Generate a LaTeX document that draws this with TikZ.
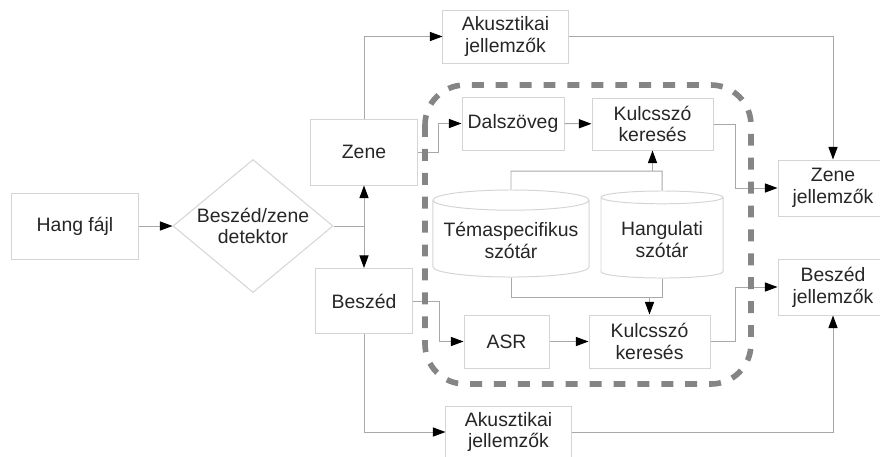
\documentclass[tikz,border=0pt]{standalone}
\usepackage{fontspec}
\setmainfont{Liberation Sans}
\usetikzlibrary{arrows.meta,shapes.geometric}
\definecolor{boxgray}{HTML}{D4D4D4}
\definecolor{linegray}{HTML}{A8A8A8}
\definecolor{regiongray}{HTML}{858585}
\begin{document}
\begin{tikzpicture}[
  x=0.025cm, y=-0.025cm,
  font=\fontsize{13.8}{15.5}\selectfont,
  color=linegray, line width=0.7pt,
  >={Triangle[black,length=9pt,width=6.5pt]},
  squarednode/.style={rectangle, draw=boxgray, text=black!85, align=center},
  diamondnode/.style={diamond, draw=boxgray, text=black!85, align=center, aspect=1.2, inner sep=0pt, minimum width=4cm, minimum height=3.325cm},
  dbnode/.style={cylinder, shape border rotate=90, anchor=shape center, draw=boxgray, text=black!85, align=center, aspect=0.14},
  regionbox/.style={draw=regiongray, line width=4pt, dash pattern=on 8.5pt off 8.5pt, rounded corners=1cm},
  ]
\useasboundingbox (0,0) rectangle (880,456);

\node[squarednode, minimum width=3.175cm, minimum height=1.65cm] (hang) at (75,226) {Hang fájl};
\node[diamondnode] (det) at (253,226) {Beszéd/zene\\detektor};

\node[squarednode, minimum width=2.65cm, minimum height=1.65cm] (zene) at (364,152) {Zene};
\node[squarednode, minimum width=2.425cm, minimum height=1.625cm] (besz) at (364,301) {Beszéd};

\node[squarednode, minimum width=3.125cm, minimum height=1.325cm] (akt) at (505.5,36.5) {Akusztikai\\jellemzők};
\node[squarednode, minimum width=3.125cm, minimum height=1.3cm] (akb) at (508.5,432) {Akusztikai\\jellemzők};

\node[squarednode, minimum width=2.55cm, minimum height=1.325cm] (dal) at (513,123.5) {Dalszöveg};
\node[squarednode, minimum width=3.025cm, minimum height=1.3cm] (kt) at (652.5,124) {Kulcsszó\\keresés};
\node[squarednode, minimum width=2.125cm, minimum height=1.325cm] (asr) at (506.5,341.5) {ASR};
\node[squarednode, minimum width=3.025cm, minimum height=1.325cm] (kb) at (649.5,341.5) {Kulcsszó\\keresés};

\node[dbnode, minimum width=3.9cm, minimum height=2.175cm] (tema) at (511,233.5) {Témaspecifikus\\szótár};
\node[dbnode, minimum width=3.05cm, minimum height=2.175cm] (hangu) at (662,234.5) {Hangulati\\szótár};

\node[squarednode, minimum width=2.75cm, minimum height=1.4cm] (zj) at (833,188) {Zene\\jellemzők};
\node[squarednode, minimum width=2.75cm, minimum height=1.4cm] (bj) at (833,287) {Beszéd\\jellemzők};

\coordinate (jn) at (364,226);
\coordinate (topbus) at (662,171);
\coordinate (botbus) at (662,297);

\draw[->] (hang) -- (det);
\draw (det.east) -- (jn);
\draw[->] (jn) -- (zene);
\draw[->] (jn) -- (besz);
\draw[->] (zene.north) |- (akt.west);
\draw[->] (akt.east) -| (zj.north);
\draw[->] (zene.east) -- ++(21,0) |- (dal.west);
\draw[->] (dal) -- (kt);
\draw[->] (kt.east) -- ++(22,0) |- (zj.west);
\draw (tema.north) |- (topbus) -- (hangu.north);
\draw[->] (topbus -| kt.south) -- (kt.south);
\draw (tema.south) |- (botbus) -- (hangu.south);
\draw[->] (botbus -| kb.north) -- (kb.north);
\draw[->] (besz.east) -- ++(26,0) |- (asr.west);
\draw[->] (asr) -- (kb);
\draw[->] (kb.east) -- ++(25,0) |- (bj.west);
\draw[->] (besz.south) |- (akb.west);
\draw[->] (akb.east) -| (bj.south);

\draw[regionbox] (425,85) rectangle (751,384);

\end{tikzpicture}
\end{document}
